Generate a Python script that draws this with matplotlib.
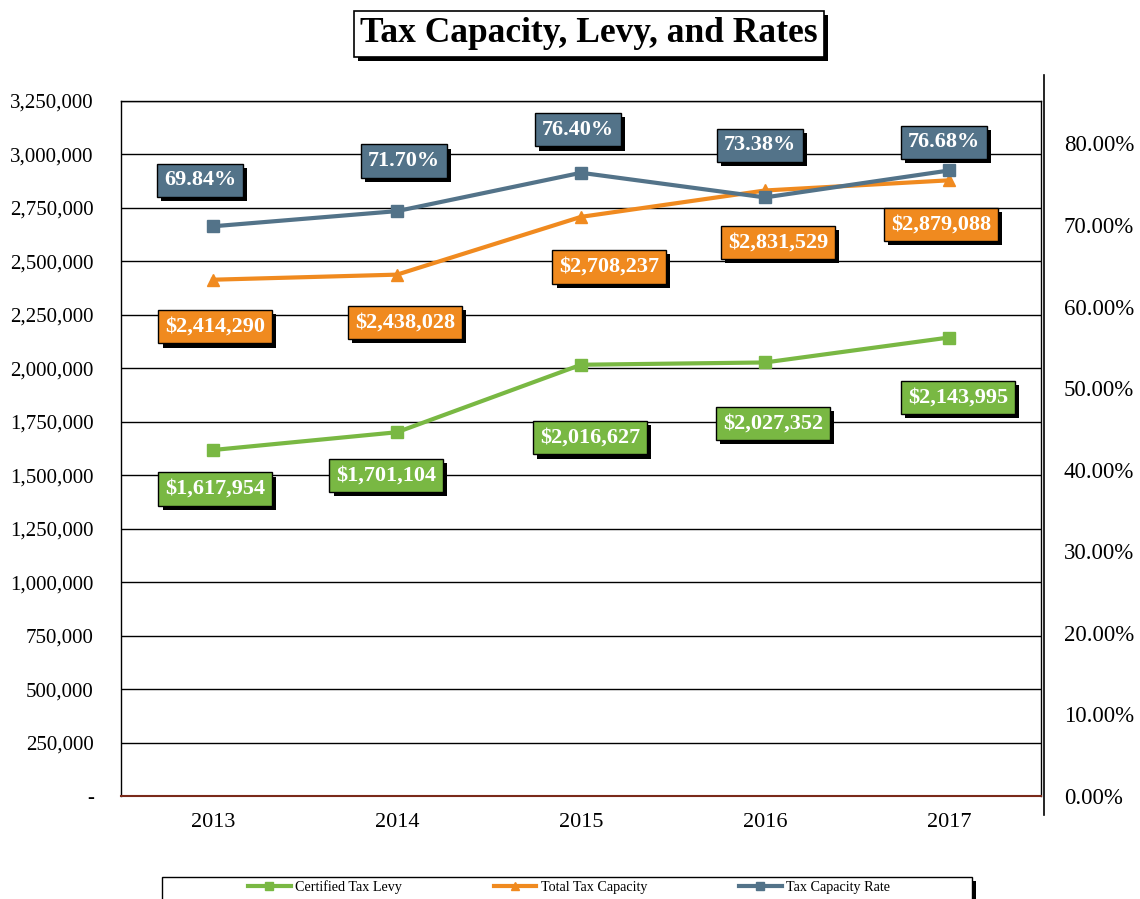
import numpy as np
import matplotlib
matplotlib.use("Agg")
import matplotlib.pyplot as plt
import matplotlib.patheffects as pe
from matplotlib.lines import Line2D
from matplotlib.patches import Rectangle
from matplotlib.ticker import FuncFormatter

plt.rcParams['font.family'] = ['Liberation Serif', 'DejaVu Serif']

years = ['2013', '2014', '2015', '2016', '2017']
levy = [1617954, 1701104, 2016627, 2027352, 2143995]
capacity = [2414290, 2438028, 2708237, 2831529, 2879088]
rate = [0.6984, 0.7170, 0.7640, 0.7338, 0.7668]

GREEN = '#79B843'
ORANGE = '#F08A1F'
BLUE = '#537389'

# label offsets in pixels (dx, dy) from each point
levy_off = [(2, -39), (-11, -43), (9, -73), (8, -61), (9, -60)]
cap_off = [(2, -47), (8, -48), (28, -50), (13, -52), (-8, -44)]
rate_off = [(-13, 46), (7, 50), (-3, 43), (-5, 52), (-5, 28)]

fig = plt.figure(figsize=(11.4, 8.99), dpi=100)
ax = fig.add_axes([121/1140, 1 - 796/899, 920/1140, 695/899])
ax2 = ax.twinx()

x = np.arange(len(years))

ax.set_xlim(-0.5, len(years) - 0.5)
ax.set_ylim(0, 3250000)
ax.set_yticks(np.arange(0, 3250001, 250000))
ax.yaxis.set_major_formatter(FuncFormatter(lambda v, p: '-' if v == 0 else f'{v:,.0f}'))
ax.grid(axis='y', color='black', lw=1)
ax.set_axisbelow(True)
ax.set_xticks(x)
ax.set_xticklabels(years)
ax.tick_params(axis='y', length=0, pad=19.5, labelsize=15)
ax.tick_params(axis='x', length=0, pad=12, labelsize=16)
for s in ax.spines.values():
    s.set_color('black')
    s.set_linewidth(1)
ax.spines['bottom'].set_color('#7A2A1A')
ax.spines['bottom'].set_linewidth(1.5)

ax2.set_ylim(0, 0.852)
ax2.set_yticks(np.arange(0, 0.81, 0.1))
ax2.yaxis.set_major_formatter(FuncFormatter(lambda v, p: f'{v*100:.2f}%'))
ax2.tick_params(axis='y', length=0, pad=16.5, labelsize=16.5)
for s in ax2.spines.values():
    s.set_visible(False)

ax.plot(x, levy, color=GREEN, lw=3, marker='s', ms=9, label='Certified Tax Levy', zorder=3)
ax.plot(x, capacity, color=ORANGE, lw=3, marker='^', ms=9, label='Total Tax Capacity', zorder=3)
ax2.plot(x, rate, color=BLUE, lw=3, marker='s', ms=9, label='Tax Capacity Rate', zorder=3)

shadow = [pe.SimplePatchShadow(offset=(3, -3), shadow_rgbFace='black', alpha=1), pe.Normal()]


def boxed(axis, xi, yi, text, color, off):
    t = axis.annotate(text, (xi, yi), xytext=off, textcoords='offset pixels',
                      ha='center', va='center', color='white', fontsize=16, fontweight='bold',
                      bbox=dict(boxstyle='square,pad=0.3', fc=color, ec='black', lw=1),
                      zorder=5, annotation_clip=False)
    t.get_bbox_patch().set_path_effects(shadow)


for i in range(len(years)):
    boxed(ax, x[i], levy[i], f'${levy[i]:,}', GREEN, levy_off[i])
    boxed(ax, x[i], capacity[i], f'${capacity[i]:,}', ORANGE, cap_off[i])
    boxed(ax2, x[i], rate[i], f'{rate[i]*100:.2f}%', BLUE, rate_off[i])

# secondary axis line, taller than the plot area
fig.add_artist(Line2D([1044/1140, 1044/1140], [1 - 815/899, 1 - 75/899],
                      transform=fig.transFigure, color='black', lw=1.2))

title = fig.text(0.5165, 1 - 34/899, 'Tax Capacity, Levy, and Rates', ha='center', va='center',
                 fontsize=25.5, fontweight='bold',
                 bbox=dict(boxstyle='square,pad=0.18', fc='white', ec='black', lw=1.2))
title.get_bbox_patch().set_path_effects(shadow)

# legend frame running off the bottom edge
frame = Rectangle((162/1140, -10/899), 810/1140, 32/899, transform=fig.transFigure,
                  fc='white', ec='black', lw=1, zorder=1)
frame.set_path_effects(shadow)
fig.add_artist(frame)

handles = ax.get_lines()[:2] + ax2.get_lines()[:1]
leg = fig.legend(handles, [h.get_label() for h in handles], loc='center',
                 bbox_to_anchor=(569/1140, 1 - 887/899), ncol=3, fontsize=10.2,
                 frameon=False, handlelength=3.0, handletextpad=0.3, columnspacing=6.5,
                 borderaxespad=0, borderpad=0, markerscale=0.6)
leg.set_zorder(2)

fig.savefig('out.png', dpi=100)
